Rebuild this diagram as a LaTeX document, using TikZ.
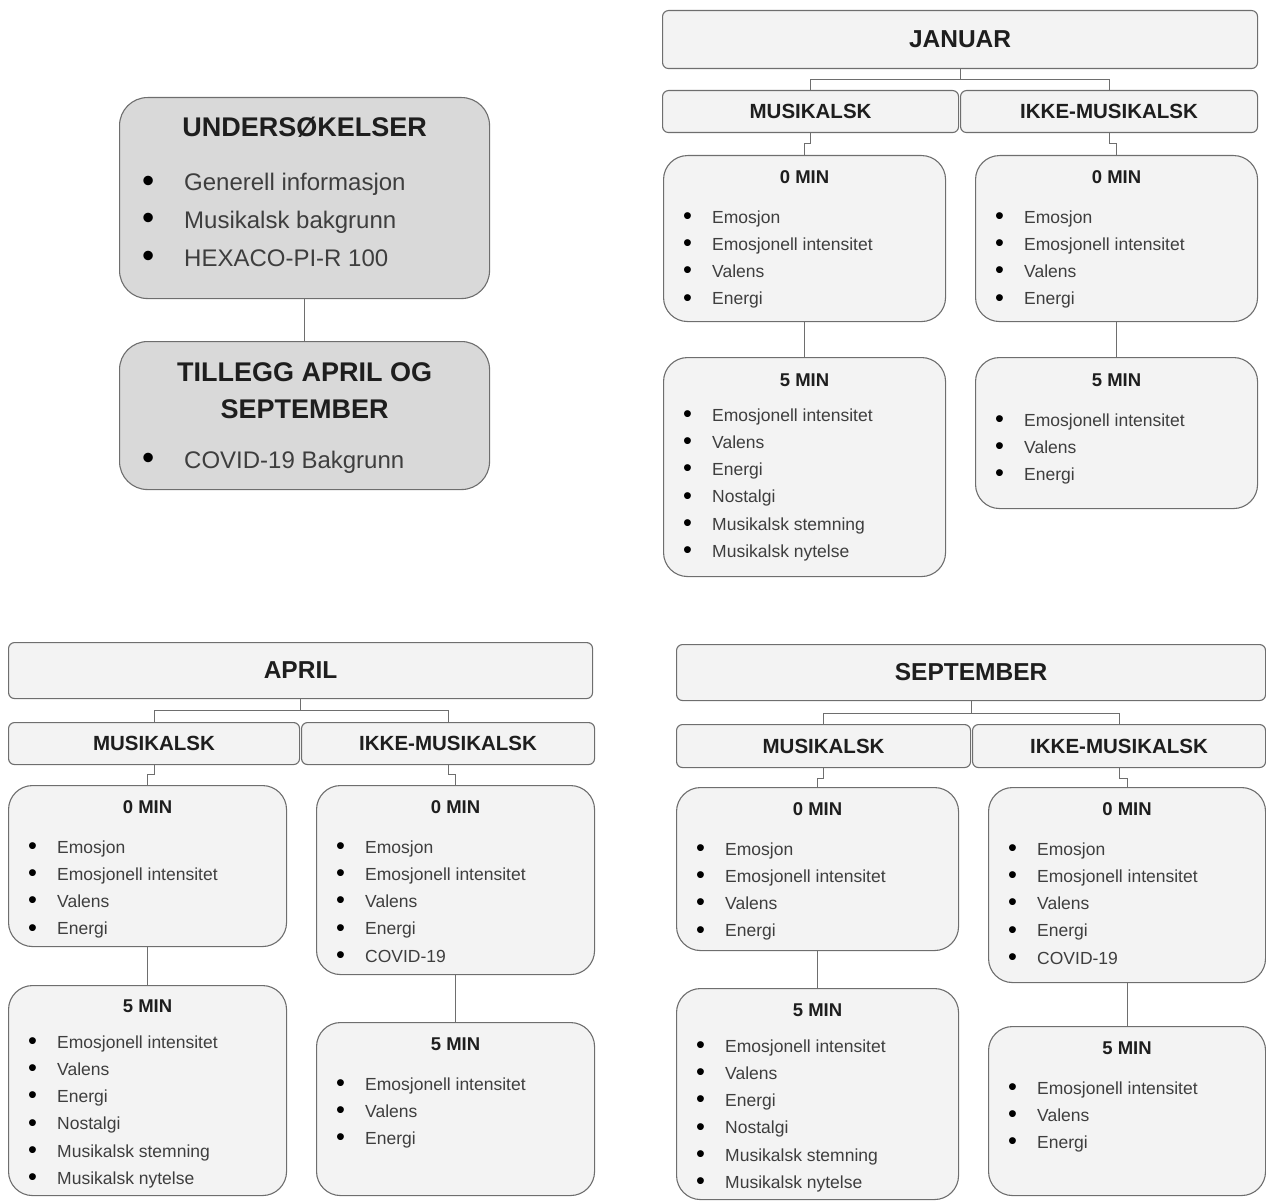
\documentclass[tikz,border=0pt]{standalone}
\usepackage{fontspec}
\setmainfont{Liberation Sans}
\usetikzlibrary{positioning,calc}
\definecolor{edge}{HTML}{6E6E6E}
\definecolor{paper}{HTML}{F3F3F3}
\definecolor{shade}{HTML}{D9D9D9}
\definecolor{ink}{HTML}{1E1E1E}
\definecolor{body}{HTML}{3E3E3E}

% bigger bullet glyph
\newcommand\bigbul[1]{\makebox[#1][l]{\raisebox{-1.2pt}{\scalebox{1.45}{\textcolor{black}{\textbullet}}}}}
% bullet list inside a card: box name, offset of first baseline, items
\newcommand\itemlist[3]{%
  \foreach \txt [count=\idx from 0] in {#3}
    \node[itm] (#1-\idx) at ([xshift=20pt,yshift={-(#2)-27.3*\idx}]#1.north west)
      {\bigbul{29pt}\txt};}

\begin{document}
\begin{tikzpicture}[
  x=1pt, y=-1pt, % pixel grid, y downwards
  hdr/.style  ={draw=edge,fill=paper,line width=1.1pt,rounded corners=6pt,inner sep=0pt,anchor=north west},
  card/.style ={hdr,rounded corners=24pt},
  gcard/.style={hdr,fill=shade,rounded corners=28pt},
  big/.style  ={font=\bfseries\fontsize{24.5}{28}\selectfont,text=ink,inner sep=0pt},
  sub/.style  ={font=\bfseries\fontsize{20.5}{24}\selectfont,text=ink,inner sep=0pt},
  ttl/.style  ={font=\bfseries\fontsize{18.5}{22}\selectfont,text=ink,inner sep=0pt},
  gttl/.style ={font=\bfseries\fontsize{27}{37}\selectfont,text=ink,inner sep=0pt,align=center},
  itm/.style  ={font=\fontsize{17.5}{21}\selectfont,text=body,inner sep=0pt,anchor=base west},
  bigitm/.style={font=\fontsize{24}{28}\selectfont,text=body,inner sep=0pt,anchor=base west},
  link/.style ={draw=edge,line width=1.1pt}
]
\useasboundingbox (0,0) rectangle (1266,1201);

% ==================================================
% SURVEYS (grey boxes, top left)
% ==================================================
\node[gcard, minimum width=370pt, minimum height=201pt] (surv) at (119,97) {};
\node[gttl] (survT) at ([yshift=-30pt]surv.north) {UNDERSØKELSER};
\node[bigitm] (surv-0) at ([xshift=23pt,yshift=-94pt]surv.north west)
  {\bigbul{42pt}Generell informasjon};
\node[bigitm] (surv-1) at ([xshift=23pt,yshift=-131.5pt]surv.north west)
  {\bigbul{42pt}Musikalsk bakgrunn};
\node[bigitm] (surv-2) at ([xshift=23pt,yshift=-169pt]surv.north west)
  {\bigbul{42pt}HEXACO-PI-R 100};

\node[gcard, minimum width=370pt, minimum height=148pt] (extra) at (119,341) {};
\node[gttl] (extraT) at ([yshift=-49.5pt]extra.north) {TILLEGG APRIL OG\\SEPTEMBER};
\node[bigitm] (extra-0) at ([xshift=23pt,yshift=-127pt]extra.north west)
  {\bigbul{42pt}COVID-19 Bakgrunn};

\draw[link] (surv.south) -- (extra.north);

% ==================================================
% JANUAR (top right)
% ==================================================
\node[hdr, minimum width=595pt, minimum height=58pt] (jan) at (662,10) {};
\node[big] (janT) at (jan.center) {JANUAR};
\node[hdr, minimum width=296pt, minimum height=42pt] (janM) at (662,90) {};
\node[sub] (janMT) at (janM.center) {MUSIKALSK};
\node[hdr, minimum width=297pt, minimum height=42pt] (janI) at (960,90) {};
\node[sub] (janIT) at (janI.center) {IKKE-MUSIKALSK};

\node[card, minimum width=282pt, minimum height=166pt] (jan0M) at (663,155) {};
\node[ttl] at ([yshift=-22pt]jan0M.north) (jan0MT) {0 MIN};
\itemlist{jan0M}{68}{Emosjon,Emosjonell intensitet,Valens,Energi}
\node[card, minimum width=282pt, minimum height=166pt] (jan0I) at (975,155) {};
\node[ttl] at ([yshift=-22pt]jan0I.north) (jan0IT) {0 MIN};
\itemlist{jan0I}{68}{Emosjon,Emosjonell intensitet,Valens,Energi}

\node[card, minimum width=282pt, minimum height=219pt] (jan5M) at (663,357) {};
\node[ttl] at ([yshift=-23pt]jan5M.north) (jan5MT) {5 MIN};
\itemlist{jan5M}{64}{Emosjonell intensitet,Valens,Energi,Nostalgi,Musikalsk stemning,Musikalsk nytelse}
\node[card, minimum width=282pt, minimum height=151pt] (jan5I) at (975,357) {};
\node[ttl] at ([yshift=-23pt]jan5I.north) (jan5IT) {5 MIN};
\itemlist{jan5I}{69}{Emosjonell intensitet,Valens,Energi}

\draw[link] (jan.south) -- ++(0,10) -| (janM.north);
\draw[link] (jan.south) -- ++(0,10) -| (janI.north);
\draw[link] (janM.south) -- ++(0,10) -| (jan0M.north);
\draw[link] (janI.south) -- ++(0,10) -| (jan0I.north);
\draw[link] (jan0M.south) -- (jan5M.north);
\draw[link] (jan0I.south) -- (jan5I.north);

% ==================================================
% APRIL (bottom left)
% ==================================================
\node[hdr, minimum width=584pt, minimum height=56pt] (apr) at (8,642) {};
\node[big] (aprT) at (apr.center) {APRIL};
\node[hdr, minimum width=291pt, minimum height=42pt] (aprM) at (8,722) {};
\node[sub] (aprMT) at (aprM.center) {MUSIKALSK};
\node[hdr, minimum width=293pt, minimum height=42pt] (aprI) at (301,722) {};
\node[sub] (aprIT) at (aprI.center) {IKKE-MUSIKALSK};

\node[card, minimum width=278pt, minimum height=161pt] (apr0M) at (8,785) {};
\node[ttl] at ([yshift=-22pt]apr0M.north) (apr0MT) {0 MIN};
\itemlist{apr0M}{68}{Emosjon,Emosjonell intensitet,Valens,Energi}
\node[card, minimum width=278pt, minimum height=189pt] (apr0I) at (316,785) {};
\node[ttl] at ([yshift=-22pt]apr0I.north) (apr0IT) {0 MIN};
\itemlist{apr0I}{68}{Emosjon,Emosjonell intensitet,Valens,Energi,COVID-19}

\node[card, minimum width=278pt, minimum height=210pt] (apr5M) at (8,985) {};
\node[ttl] at ([yshift=-21pt]apr5M.north) (apr5MT) {5 MIN};
\itemlist{apr5M}{63}{Emosjonell intensitet,Valens,Energi,Nostalgi,Musikalsk stemning,Musikalsk nytelse}
\node[card, minimum width=278pt, minimum height=173pt] (apr5I) at (316,1022) {};
\node[ttl] at ([yshift=-22pt]apr5I.north) (apr5IT) {5 MIN};
\itemlist{apr5I}{68}{Emosjonell intensitet,Valens,Energi}

\draw[link] (apr.south) -- ++(0,11) -| (aprM.north);
\draw[link] (apr.south) -- ++(0,11) -| (aprI.north);
\draw[link] (aprM.south) -- ++(0,9) -| (apr0M.north);
\draw[link] (aprI.south) -- ++(0,9) -| (apr0I.north);
\draw[link] (apr0M.south) -- (apr5M.north);
\draw[link] (apr0I.south) -- (apr5I.north);

% ==================================================
% SEPTEMBER (bottom right)
% ==================================================
\node[hdr, minimum width=589pt, minimum height=56pt] (sep) at (676,644) {};
\node[big] (sepT) at (sep.center) {SEPTEMBER};
\node[hdr, minimum width=294pt, minimum height=43pt] (sepM) at (676,724) {};
\node[sub] (sepMT) at (sepM.center) {MUSIKALSK};
\node[hdr, minimum width=293pt, minimum height=43pt] (sepI) at (972,724) {};
\node[sub] (sepIT) at (sepI.center) {IKKE-MUSIKALSK};

\node[card, minimum width=282pt, minimum height=163pt] (sep0M) at (676,787) {};
\node[ttl] at ([yshift=-22pt]sep0M.north) (sep0MT) {0 MIN};
\itemlist{sep0M}{68}{Emosjon,Emosjonell intensitet,Valens,Energi}
\node[card, minimum width=277pt, minimum height=195pt] (sep0I) at (988,787) {};
\node[ttl] at ([yshift=-22pt]sep0I.north) (sep0IT) {0 MIN};
\itemlist{sep0I}{68}{Emosjon,Emosjonell intensitet,Valens,Energi,COVID-19}

\node[card, minimum width=282pt, minimum height=211pt] (sep5M) at (676,988) {};
\node[ttl] at ([yshift=-22pt]sep5M.north) (sep5MT) {5 MIN};
\itemlist{sep5M}{64}{Emosjonell intensitet,Valens,Energi,Nostalgi,Musikalsk stemning,Musikalsk nytelse}
\node[card, minimum width=277pt, minimum height=169pt] (sep5I) at (988,1026) {};
\node[ttl] at ([yshift=-22pt]sep5I.north) (sep5IT) {5 MIN};
\itemlist{sep5I}{68}{Emosjonell intensitet,Valens,Energi}

\draw[link] (sep.south) -- ++(0,12) -| (sepM.north);
\draw[link] (sep.south) -- ++(0,12) -| (sepI.north);
\draw[link] (sepM.south) -- ++(0,10) -| (sep0M.north);
\draw[link] (sepI.south) -- ++(0,10) -| (sep0I.north);
\draw[link] (sep0M.south) -- (sep5M.north);
\draw[link] (sep0I.south) -- (sep5I.north);

\end{tikzpicture}
\end{document}
